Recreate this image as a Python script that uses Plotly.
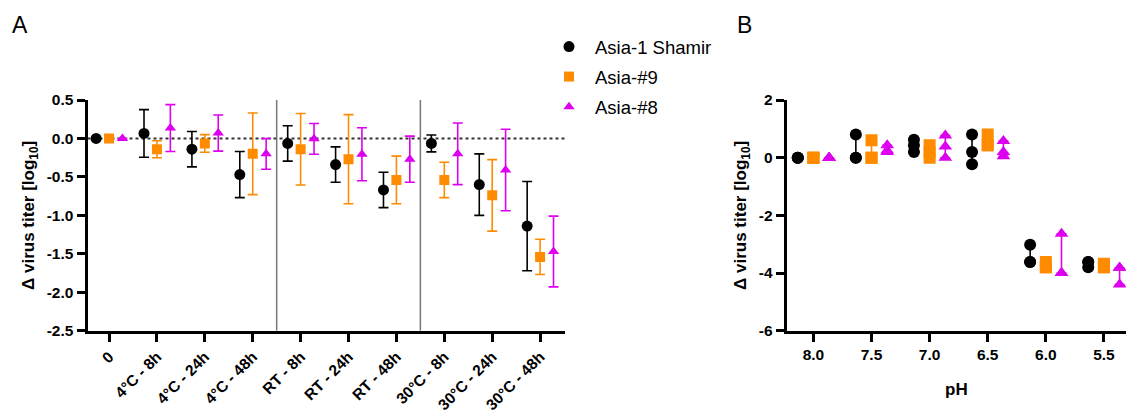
import plotly.graph_objects as go

# ---------------- Panel A data ----------------
conditions = ["0", "4°C - 8h", "4°C - 24h", "4°C - 48h", "RT - 8h", "RT - 24h",
              "RT - 48h", "30°C - 8h", "30°C - 24h", "30°C - 48h"]
series_names = ["Asia-1 Shamir", "Asia-#9", "Asia-#8"]
shamir_mean = [0, 0.065, -0.14, -0.47, -0.065, -0.34, -0.67, -0.065, -0.60, -1.14]
shamir_err = [0, 0.31, 0.23, 0.30, 0.23, 0.23, 0.23, 0.11, 0.40, 0.58]
asia9_mean = [0, -0.14, -0.065, -0.20, -0.14, -0.27, -0.54, -0.54, -0.74, -1.54]
asia9_err = [0, 0.11, 0.115, 0.53, 0.465, 0.58, 0.31, 0.23, 0.465, 0.23]
asia8_mean = [0, 0.135, 0.07, -0.20, -0.005, -0.205, -0.27, -0.20, -0.41, -1.47]
asia8_err = [0, 0.305, 0.235, 0.20, 0.20, 0.345, 0.30, 0.40, 0.53, 0.46]
a_ytick_vals = [-2.5, -2.0, -1.5, -1.0, -0.5, 0.0, 0.5]
a_ytick_text = ["-2.5", "-2.0", "-1.5", "-1.0", "-0.5", "0.0", "0.5"]
group_breaks = [3.5, 6.5]

# ---------------- Panel B data ----------------
ph_values = [8.0, 7.5, 7.0, 6.5, 6.0, 5.5]
ph_text = ["8.0", "7.5", "7.0", "6.5", "6.0", "5.5"]
shamir_ph = [[0, 0, 0], [0.8, 0, 0], [0.62, 0.43, 0.2], [0.8, 0.2, -0.23],
             [-3.02, -3.62, -3.62], [-3.62, -3.8, -3.62]]
asia9_ph = [[0, 0, 0], [0.6, 0, 0], [0.43, 0.18, 0.0], [0.8, 0.43, 0.43],
            [-3.62, -3.8, -3.8], [-3.68, -3.8, -3.8]]
asia8_ph = [[0, 0, 0], [0.43, 0.25, 0.2], [0.77, 0.39, 0.0], [0.58, 0.2, 0.05],
            [-2.64, -4.0, -4.0], [-3.82, -3.82, -4.4]]
b_ytick_vals = [-6, -4, -2, 0, 2]
b_ytick_text = ["-6", "-4", "-2", "0", "2"]

# ---------------- styles ----------------
colors = ["#000000", "#FF8C00", "#DD00EE"]
symbols = ["circle", "square", "triangle-up"]
offsets_a = [-0.27, 0.0, 0.28]
offsets_b = [0.135, 0.0, -0.135]
FONT = "Liberation Sans, Arial, sans-serif"
W, H = 1126, 414

fig = go.Figure()

means = [shamir_mean, asia9_mean, asia8_mean]
errs = [shamir_err, asia9_err, asia8_err]
for i, name in enumerate(series_names):
    xs = [k + offsets_a[i] for k in range(len(conditions))]
    fig.add_trace(go.Scatter(
        x=xs, y=means[i], mode="markers", name=name, legendgroup=name,
        marker=dict(symbol=symbols[i], color=colors[i], size=10 if i else 11),
        error_y=dict(type="data", array=errs[i], visible=True, color=colors[i],
                     thickness=1.6, width=5),
        xaxis="x", yaxis="y", showlegend=True))

reps = [shamir_ph, asia9_ph, asia8_ph]
for i, name in enumerate(series_names):
    mx, my, up, dn = [], [], [], []
    px, py = [], []
    for j, ph in enumerate(ph_values):
        vals = reps[i][j]
        m = sum(vals) / len(vals)
        mx.append(ph + offsets_b[i])
        my.append(m)
        up.append(max(vals) - m)
        dn.append(m - min(vals))
        for v in vals:
            px.append(ph + offsets_b[i])
            py.append(v)
    fig.add_trace(go.Scatter(
        x=mx, y=my, mode="markers", marker=dict(size=0.1, color=colors[i], opacity=0),
        error_y=dict(type="data", symmetric=False, array=up, arrayminus=dn,
                     color=colors[i], thickness=1.6, width=5),
        xaxis="x2", yaxis="y2", showlegend=False, hoverinfo="skip"))
    fig.add_trace(go.Scatter(
        x=px, y=py, mode="markers", name=name, legendgroup=name,
        marker=dict(symbol=symbols[i], color=colors[i], size=12),
        xaxis="x2", yaxis="y2", showlegend=False))

y0 = (H - 330.7) / H
y1 = (H - 100) / H
axis_common = dict(showline=True, linecolor="black", linewidth=3, ticks="outside",
                   ticklen=8, tickwidth=2.5, tickcolor="black", showgrid=False,
                   zeroline=False, automargin=False)
ytick_font = dict(family=FONT, size=15.5, color="black", weight="bold")
xtick_font = dict(family=FONT, size=15.5, color="black", weight="bold")
title_font = dict(family=FONT, size=17, color="black", weight="bold")

fig.update_layout(
    width=W, height=H, margin=dict(l=0, r=0, t=0, b=0, autoexpand=False),
    plot_bgcolor="white", paper_bgcolor="white",
    font=dict(family=FONT, color="black"),
    xaxis=dict(domain=[87.5 / W, 565 / W], range=[-0.45, 9.52],
               tickvals=list(range(len(conditions))), ticktext=conditions,
               tickangle=-45, anchor="y", tickfont=xtick_font, **axis_common),
    yaxis=dict(domain=[y0, y1], range=[-2.5, 0.5], tickvals=a_ytick_vals,
               ticktext=a_ytick_text, anchor="x", tickfont=ytick_font,
               title=dict(text="Δ virus titer [log<sub>10</sub>]", font=title_font,
                          standoff=8),
               **axis_common),
    xaxis2=dict(domain=[786.7 / W, 1.0], range=[8.23, 5.31],
                tickvals=ph_values, ticktext=ph_text, anchor="y2", tickfont=ytick_font,
                **axis_common),
    yaxis2=dict(domain=[y0, y1], range=[-6, 2], tickvals=b_ytick_vals,
                ticktext=b_ytick_text, anchor="x2", tickfont=ytick_font,
                title=dict(text="Δ virus titer [log<sub>10</sub>]", font=title_font,
                           standoff=8),
                **axis_common),
    legend=dict(x=543 / W, y=1 - 28 / H, xanchor="left", yanchor="top",
                font=dict(family=FONT, size=18.5, color="black"),
                itemwidth=42, tracegroupgap=3, bgcolor="rgba(0,0,0,0)"),
    showlegend=True,
)

# separators and dotted zero line (panel A)
for xb in group_breaks:
    fig.add_shape(type="line", xref="x", yref="y", x0=xb, x1=xb, y0=-2.5, y1=0.5,
                  line=dict(color="#777777", width=1.5))
fig.add_shape(type="line", xref="x", yref="y", x0=-0.45, x1=9.52, y0=0, y1=0,
              line=dict(color="#333333", width=2, dash="dot"), layer="below")

# pH axis title
fig.add_annotation(text="pH", x=0.5, xref="x2 domain", y=(H - 389) / H, yref="paper",
                   xanchor="center", yanchor="middle", showarrow=False,
                   font=title_font)

fig.add_annotation(text="A", x=10 / W, y=1 - 10 / H, xref="paper", yref="paper",
                   xanchor="left", yanchor="top", showarrow=False,
                   font=dict(family=FONT, size=23, color="black"))
fig.add_annotation(text="B", x=735 / W, y=1 - 10 / H, xref="paper", yref="paper",
                   xanchor="left", yanchor="top", showarrow=False,
                   font=dict(family=FONT, size=23, color="black"))

fig.write_html("out.html", config={"displayModeBar": False},
               post_script="document.body.style.margin='0';document.body.style.overflow='hidden';")
